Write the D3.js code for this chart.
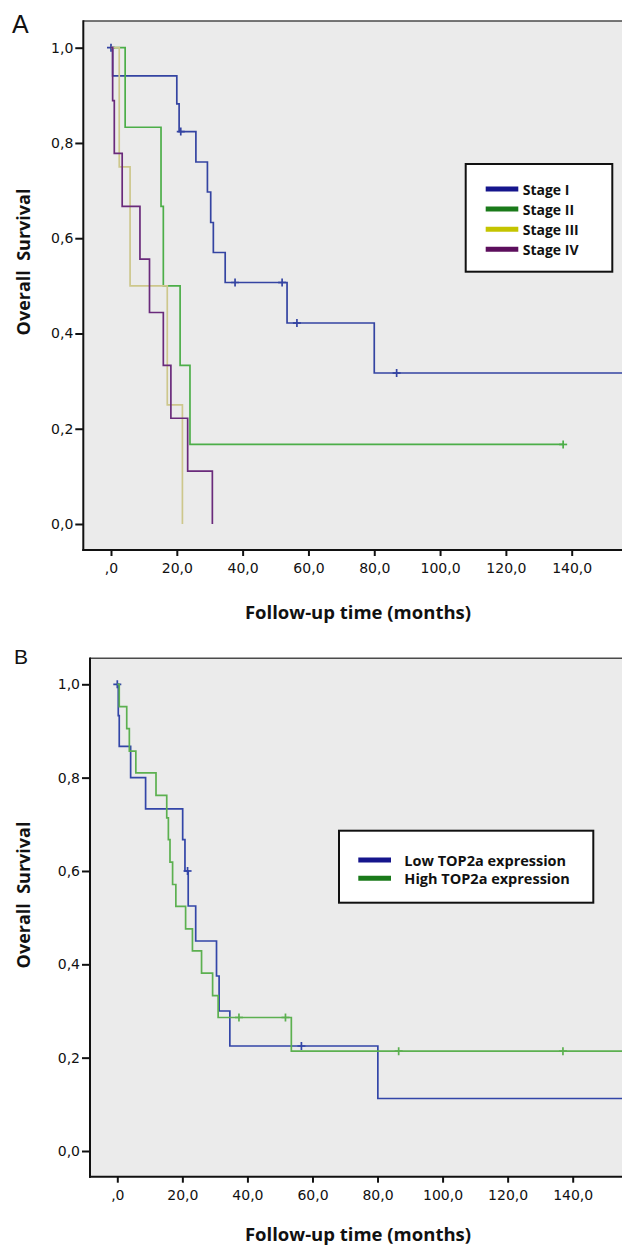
<!DOCTYPE html>
<html><head><meta charset="utf-8">
<script src="https://cdn.jsdelivr.net/npm/d3@7"></script>
<style>
html,body{margin:0;padding:0;background:#fff;}
svg{display:block;}
</style>
</head><body>
<svg id="chart" width="622" height="1248"></svg>
<script>
// ---------- DATA ----------
const xTickValues = [0, 20, 40, 60, 80, 100, 120, 140];
const yTickValues = [0, 0.2, 0.4, 0.6, 0.8, 1.0];
const xTitle = "Follow-up time (months)";
const yTitle = "Overall  Survival";

// Panel A: Stage
const stageNames = ["Stage I", "Stage II", "Stage III", "Stage IV"];
const stage1Times = [0, 0.5, 20, 20.7, 25.8, 29.3, 30.3, 31.1, 34.7, 53.5, 80];
const stage1Surv  = [1, 0.941, 0.882, 0.824, 0.760, 0.697, 0.633, 0.570, 0.507, 0.422, 0.317];
const stage1Censor = [0, 21.2, 37.7, 52, 56.5, 86.8];
const stage1End = 170;
const stage2Times = [0, 4.3, 15.2, 15.9, 21, 24];
const stage2Surv  = [1, 0.833, 0.667, 0.5, 0.333, 0.167];
const stage2Censor = [137.4];
const stage2End = 137.4;
const stage3Times = [0, 2.5, 5.8, 17.1, 21.7];
const stage3Surv  = [1, 0.75, 0.5, 0.25, 0];
const stage3Censor = [];
const stage3End = 21.7;
const stage4Times = [0, 0.5, 1.0, 3.4, 8.8, 11.7, 15.9, 18.2, 23.3, 30.8];
const stage4Surv  = [1, 0.889, 0.778, 0.667, 0.556, 0.444, 0.333, 0.222, 0.111, 0];
const stage4Censor = [];
const stage4End = 30.8;

// Panel B: TOP2a expression
const exprNames = ["Low TOP2a expression", "High TOP2a expression"];
const lowTimes = [0, 0.3, 0.6, 4.1, 8.7, 20.1, 20.8, 21.8, 24.1, 30.5, 31.3, 34.6, 80.1];
const lowSurv  = [1, 0.933, 0.867, 0.8, 0.733, 0.667, 0.6, 0.525, 0.45, 0.375, 0.3, 0.225, 0.1125];
const lowCensor = [0, 21.6, 56.6];
const lowEnd = 170;
const highTimes = [0, 0.6, 2.9, 3.7, 5.7, 11.9, 15.2, 15.7, 16.2, 17.0, 18.0, 21.0, 23.1, 25.9, 29.3, 31.0, 53.5];
const highSurv  = [1, 0.952, 0.905, 0.857, 0.810, 0.762, 0.714, 0.667, 0.619, 0.571, 0.524, 0.476, 0.429, 0.381, 0.333, 0.286, 0.214];
const highCensor = [37.4, 51.7, 86.5, 137];
const highEnd = 170;

// ---------- DRAWING ----------
const svg = d3.select("#chart");
const fontTick = "'DejaVu Sans', Verdana, sans-serif";
const fontBold = "'Open Sans', 'Noto Sans', sans-serif";

function fmtX(v){ return v === 0 ? ",0" : d3.format(".1f")(v).replace(".", ","); }
function fmtY(v){ return d3.format(".1f")(v).replace(".", ","); }

function survAt(times, surv, t){
  let s = surv[0];
  for (let i = 0; i < times.length; i++) if (times[i] <= t) s = surv[i];
  return s;
}

function drawPanel(cfg){
  const g = svg.append("g");
  const x = d3.scaleLinear().domain([0, 140]).range([cfg.x0, cfg.x140]);
  const y = d3.scaleLinear().domain([0, 1]).range([cfg.y0, cfg.y1]);

  g.append("rect").attr("x", cfg.left).attr("y", cfg.top)
    .attr("width", 622 - cfg.left).attr("height", cfg.bottom - cfg.top)
    .attr("fill", "#ebebeb");

  const clipId = "clip" + cfg.id;
  svg.append("clipPath").attr("id", clipId).append("rect")
    .attr("x", cfg.left).attr("y", cfg.top)
    .attr("width", 622 - cfg.left).attr("height", cfg.bottom - cfg.top);

  const line = d3.line().x(d => x(d[0])).y(d => y(d[1])).curve(d3.curveStepAfter);
  const cg = g.append("g").attr("clip-path", `url(#${clipId})`);
  cfg.series.forEach(s => {
    const pts = s.times.map((t, i) => [t, s.surv[i]]);
    pts.push([s.end, s.surv[s.surv.length - 1]]);
    cg.append("path").attr("d", line(pts)).attr("fill", "none")
      .attr("stroke", s.color).attr("stroke-width", 1.7);
    s.censor.forEach(t => {
      const cx = x(t), cy = y(survAt(s.times, s.surv, t));
      cg.append("line").attr("x1", cx).attr("x2", cx).attr("y1", cy - 4).attr("y2", cy + 4)
        .attr("stroke", s.color).attr("stroke-width", 1.7);
      cg.append("line").attr("x1", cx - 4).attr("x2", cx + 4).attr("y1", cy).attr("y2", cy)
        .attr("stroke", s.color).attr("stroke-width", 1.7);
    });
  });

  g.append("line").attr("x1", cfg.left).attr("x2", 622).attr("y1", cfg.top).attr("y2", cfg.top)
    .attr("stroke", "#4a4a4a").attr("stroke-width", 1.5);
  g.append("line").attr("x1", cfg.left).attr("x2", cfg.left).attr("y1", cfg.top - 0.75).attr("y2", cfg.bottom + 1)
    .attr("stroke", "#111").attr("stroke-width", 2);
  g.append("line").attr("x1", cfg.left - 1).attr("x2", 622).attr("y1", cfg.bottom).attr("y2", cfg.bottom)
    .attr("stroke", "#111").attr("stroke-width", 2);

  const ya = g.append("g").attr("transform", `translate(${cfg.left},0)`)
    .call(d3.axisLeft(y).tickValues(yTickValues).tickFormat(fmtY).tickSize(8).tickPadding(2));
  const xa = g.append("g").attr("transform", `translate(0,${cfg.bottom})`)
    .call(d3.axisBottom(x).tickValues(xTickValues).tickFormat(fmtX).tickSize(6).tickPadding(7));
  [ya, xa].forEach(a => {
    a.select(".domain").remove();
    a.selectAll(".tick line").attr("stroke", "#111").attr("stroke-width", 2);
    a.selectAll(".tick text").attr("fill", "#111").style("font-family", fontTick).style("font-size", "14px");
  });

  g.append("text").attr("x", 358).attr("y", cfg.xTitleY).attr("text-anchor", "middle")
    .attr("dominant-baseline", "central")
    .style("font-family", fontBold).style("font-weight", "bold").style("font-size", "18.5px")
    .attr("fill", "#111").text(xTitle);
  g.append("text").attr("transform", `translate(23,${cfg.yTitleY}) rotate(-90)`)
    .attr("text-anchor", "middle").attr("dominant-baseline", "central")
    .style("white-space", "pre")
    .style("font-family", fontBold).style("font-weight", "bold").style("font-size", "18px")
    .attr("fill", "#111").text(yTitle);

  g.append("text").attr("x", cfg.letterX).attr("y", cfg.letterY)
    .style("font-family", "'Liberation Sans', Arial, sans-serif").style("font-size", cfg.letterSize + "px")
    .attr("fill", "#111").text(cfg.letter);

  const L = cfg.legend;
  g.append("rect").attr("x", L.x).attr("y", L.y).attr("width", L.w).attr("height", L.h)
    .attr("fill", "#fff").attr("stroke", "#111").attr("stroke-width", 2);
  cfg.series.forEach((s, i) => {
    const ry = L.rowY + i * L.rowStep;
    g.append("line").attr("x1", L.swX).attr("x2", L.swX + L.swW).attr("y1", ry).attr("y2", ry)
      .attr("stroke", s.legendColor).attr("stroke-width", 5);
    g.append("text").attr("x", L.textX).attr("y", ry).attr("dominant-baseline", "central")
      .style("font-family", fontBold).style("font-weight", "bold").style("font-size", L.fontSize + "px")
      .attr("fill", "#111").text(s.name);
  });
}

drawPanel({
  id: "A", letter: "A", letterX: 12, letterY: 33, letterSize: 25,
  left: 83.3, top: 21, bottom: 550,
  x0: 111, x140: 571.7, y0: 524, y1: 47.7,
  xTitleY: 611, yTitleY: 262,
  legend: {x: 465.7, y: 164, w: 146.6, h: 107.7, swX: 485.7, swW: 32.6, rowY: 189, rowStep: 20.1, textX: 522.7, fontSize: 14},
  series: [
    {name: stageNames[0], times: stage1Times, surv: stage1Surv, censor: stage1Censor, end: stage1End, color: "#3444a2", legendColor: "#15158c"},
    {name: stageNames[1], times: stage2Times, surv: stage2Surv, censor: stage2Censor, end: stage2End, color: "#4cae48", legendColor: "#1a7a1a"},
    {name: stageNames[2], times: stage3Times, surv: stage3Surv, censor: stage3Censor, end: stage3End, color: "#cdc78c", legendColor: "#c4c400"},
    {name: stageNames[3], times: stage4Times, surv: stage4Surv, censor: stage4Censor, end: stage4End, color: "#6a2a7b", legendColor: "#5c0e5c"}
  ]
});

drawPanel({
  id: "B", letter: "B", letterX: 14, letterY: 664, letterSize: 21,
  left: 90, top: 658.3, bottom: 1176.7,
  x0: 117.3, x140: 572.7, y0: 1151, y1: 684.3,
  xTitleY: 1233.5, yTitleY: 895,
  legend: {x: 339, y: 830.7, w: 254.3, h: 72, swX: 358.3, swW: 32.7, rowY: 860, rowStep: 18.3, textX: 404.3, fontSize: 14.5},
  series: [
    {name: exprNames[0], times: lowTimes, surv: lowSurv, censor: lowCensor, end: lowEnd, color: "#3346a8", legendColor: "#15158c"},
    {name: exprNames[1], times: highTimes, surv: highSurv, censor: highCensor, end: highEnd, color: "#5cb050", legendColor: "#1a7a1a"}
  ]
});
</script>
</body></html>
